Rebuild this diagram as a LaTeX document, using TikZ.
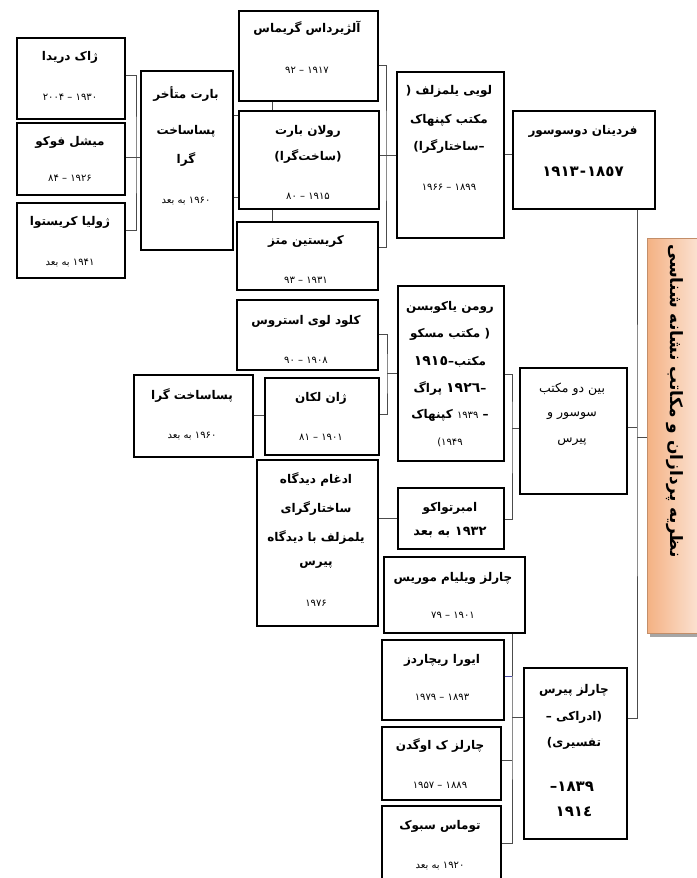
\documentclass[tikz,border=0pt]{standalone}
\usepackage{fontspec}
\TeXXeTstate=1
\newfontfamily\fafont[Script=Arabic]{DejaVu Sans}
\newcommand\fa[1]{{\fafont\beginR #1\endR}}
\newcommand\bigd[1]{{\fontsize{14}{16}\selectfont\bfseries #1}}
\usetikzlibrary{calc}
\definecolor{orA}{HTML}{F4B183}
\definecolor{orB}{HTML}{FCE6D8}
\begin{document}
\begin{tikzpicture}[x=1pt,y=-1pt,
  box/.style={draw=black, line width=1.5pt, fill=white, inner sep=0pt, anchor=north west},
  conn/.style={draw=black!70, line width=0.9pt},
  nm/.style={font=\fontsize{12}{14}\selectfont\bfseries, inner sep=0pt},
  nr/.style={font=\fontsize{12.5}{14}\selectfont, inner sep=0pt},
  dt/.style={font=\fontsize{10}{12}\selectfont, inner sep=0pt},
  bg/.style={font=\fontsize{12}{14}\selectfont\bfseries, inner sep=0pt}]
\useasboundingbox (0,0) rectangle (696,878);
% title box
\fill[black!35] (650,241) rectangle (700,637);
\node[draw=orA!80!black, line width=0.4pt, left color=orA, right color=orB, shading angle=90, minimum width=55pt, minimum height=395pt, anchor=north west, inner sep=0pt] (title) at (647,238) {};
\node[rotate=-90, inner sep=0pt, font=\fontsize{17}{19}\selectfont\bfseries] (titlet) at (675,401) {\fa{نظریه پردازان و مکاتب نشانه شناسی}};
% boxes
\node[box, minimum width=108pt, minimum height=81pt] (derrida) at (16,37) {};
\node[box, minimum width=108pt, minimum height=72pt] (foucault) at (16,122) {};
\node[box, minimum width=108pt, minimum height=75pt] (kristeva) at (16,202) {};
\node[box, minimum width=92pt, minimum height=179pt] (barthesL) at (140,70) {};
\node[box, minimum width=139pt, minimum height=90pt] (greimas) at (238,10) {};
\node[box, minimum width=140pt, minimum height=98pt] (barthes) at (238,110) {};
\node[box, minimum width=141pt, minimum height=68pt] (metz) at (236,221) {};
\node[box, minimum width=107pt, minimum height=166pt] (hjelm) at (396,71) {};
\node[box, minimum width=142pt, minimum height=98pt] (saussure) at (512,110) {};
\node[box, minimum width=141pt, minimum height=70pt] (levi) at (236,299) {};
\node[box, minimum width=114pt, minimum height=77pt] (lacan) at (264,377) {};
\node[box, minimum width=119pt, minimum height=82pt] (post) at (133,374) {};
\node[box, minimum width=106pt, minimum height=175pt] (jakob) at (397,285) {};
\node[box, minimum width=106pt, minimum height=61pt] (eco) at (397,487) {};
\node[box, minimum width=107pt, minimum height=126pt] (between) at (519,367) {};
\node[box, minimum width=121pt, minimum height=166pt] (merge) at (256,459) {};
\node[box, minimum width=141pt, minimum height=76pt] (morris) at (383,556) {};
\node[box, minimum width=122pt, minimum height=80pt] (richards) at (381,639) {};
\node[box, minimum width=119pt, minimum height=73pt] (ogden) at (381,726) {};
\node[box, minimum width=119pt, minimum height=80pt] (sebeok) at (381,805) {};
\node[box, minimum width=103pt, minimum height=171pt] (peirce) at (523,667) {};
% texts
\node[nm] (t1) at (70,57) {\fa{ژاک دریدا}};
\node[dt] (t1d) at (70,97) {\fa{۱۹۳۰ – ۲۰۰۴}};
\node[nm] (t2) at (70,142) {\fa{میشل فوکو}};
\node[dt] (t2d) at (70,178) {\fa{۱۹۲۶ – ۸۴}};
\node[nm] (t3) at (70,222) {\fa{ژولیا کریستوا}};
\node[dt] (t3d) at (70,263) {\fa{۱۹۴۱ به بعد}};
\node[nm] (t4a) at (186,94) {\fa{بارت متأخر}};
\node[nm] (t4b) at (186,131) {\fa{پساساخت}};
\node[nm] (t4c) at (186,160) {\fa{گرا}};
\node[dt] (t4d) at (186,201) {\fa{۱۹۶۰ به بعد}};
\node[nm] (t5) at (307,28) {\fa{آلژیرداس گریماس}};
\node[dt] (t5d) at (307,70) {\fa{۱۹۱۷ – ۹۲}};
\node[nm] (t6a) at (308,131) {\fa{رولان بارت}};
\node[nm] (t6b) at (308,157) {\fa{(ساخت‌گرا)}};
\node[dt] (t6d) at (308,196) {\fa{۱۹۱۵ – ۸۰}};
\node[nm] (t7) at (306,241) {\fa{کریستین متز}};
\node[dt] (t7d) at (306,280) {\fa{۱۹۳۱ – ۹۳}};
\node[nm] (t8a) at (449,91) {\fa{لویی یلمزلف (}};
\node[nm] (t8b) at (449,120) {\fa{مکتب کپنهاک}};
\node[nm] (t8c) at (449,147) {\fa{–ساختارگرا)}};
\node[dt] (t8d) at (449,187) {\fa{۱۸۹۹ – ۱۹۶۶}};
\node[nm] (t9) at (583,131) {\fa{فردینان دوسوسور}};
\node[bg, font=\fontsize{15}{17}\selectfont\bfseries] (t9d) at (583,172) {\fa{١٨٥٧\kern1pt-\kern1pt١٩١٣}};
\node[nm] (t11) at (306,321) {\fa{کلود لوی استروس}};
\node[dt] (t11d) at (306,360) {\fa{۱۹۰۸ – ۹۰}};
\node[nm] (t12) at (321,398) {\fa{ژان لکان}};
\node[dt] (t12d) at (321,437) {\fa{۱۹۰۱ – ۸۱}};
\node[nm] (t13) at (192,396) {\fa{پساساخت گرا}};
\node[dt] (t13d) at (192,436) {\fa{۱۹۶۰ به بعد}};
\node[nm] (t14a) at (450,307) {\fa{رومن یاکوبسن}};
\node[nm] (t14b) at (450,334) {\fa{( مکتب مسکو}};
\node[nm] (t14c) at (450,362) {\fa{مکتب\kern0pt–\kern0pt\bigd{١٩١٥}}};
\node[nm] (t14d) at (450,389) {\fa{–\kern0pt\bigd{١٩٢٦} پراگ}};
\node[nm] (t14e) at (450,415) {\fa{– {\fontsize{10}{12}\selectfont\mdseries ۱۹۳۹} کپنهاک}};
\node[dt] (t14f) at (450,442) {\fa{۱۹۴۹)}};
\node[nm] (t15) at (450,508) {\fa{امبرتواکو}};
\node[bg, font=\fontsize{13}{15}\selectfont\bfseries] (t15d) at (450,532) {\fa{١٩٣٢ به بعد}};
\node[nr] (t16a) at (572,389) {\fa{بین دو مکتب}};
\node[nr] (t16b) at (572,416) {\fa{سوسور و}};
\node[nr] (t16c) at (572,442) {\fa{پیرس}};
\node[nm] (t17a) at (316,480) {\fa{ادغام دیدگاه}};
\node[nm] (t17b) at (316,509) {\fa{ساختارگرای}};
\node[nm] (t17c) at (316,537) {\fa{یلمزلف با دیدگاه}};
\node[nm] (t17d) at (316,565) {\fa{پیرس}};
\node[dt] (t17e) at (316,603) {\fa{۱۹۷۶}};
\node[nm] (t18) at (453,578) {\fa{چارلز ویلیام موریس}};
\node[dt] (t18d) at (453,615) {\fa{۱۹۰۱ – ۷۹}};
\node[nm] (t19) at (442,660) {\fa{ایورا ریچاردز}};
\node[dt] (t19d) at (442,697) {\fa{۱۸۹۳ – ۱۹۷۹}};
\node[nm] (t20) at (440,745) {\fa{چارلز ک اوگدن}};
\node[dt] (t20d) at (440,785) {\fa{۱۸۸۹ – ۱۹۵۷}};
\node[nm] (t21) at (440,826) {\fa{توماس سبوک}};
\node[dt] (t21d) at (440,866) {\fa{۱۹۲۰ به بعد}};
\node[nm] (t22a) at (574,690) {\fa{چارلز پیرس}};
\node[nm] (t22b) at (574,717) {\fa{(ادراکی –}};
\node[nm] (t22c) at (574,743) {\fa{تفسیری)}};
\node[bg, font=\fontsize{15}{17}\selectfont\bfseries] (t22d) at (572,787) {\fa{١٨٣٩\kern0pt–}};
\node[bg, font=\fontsize{15}{17}\selectfont\bfseries] (t22e) at (574,812) {\fa{١٩١٤}};
% connectors
\coordinate (k1) at (136,157);
\draw[conn] (derrida.east |- 0,75) -| (k1) |- (kristeva.east |- 0,230);
\draw[conn] (foucault.east |- 0,157) -- (barthesL.west |- 0,157);
\draw[conn] (barthesL.east |- 0,115) -- (barthes.west |- 0,115);
\draw[conn] (barthesL.east |- 0,197) -- (barthes.west |- 0,197);
\draw[conn] (greimas.south -| 272,0) -- (barthes.north -| 272,0);
\draw[conn] (barthes.south -| 272,0) -- (metz.north -| 272,0);
\coordinate (k2) at (386,155);
\draw[conn] (greimas.east |- 0,65) -| (k2) |- (metz.east |- 0,247);
\draw[conn] (barthes.east |- 0,155) -- (hjelm.west |- 0,155);
\draw[conn] (hjelm.east |- 0,154) -- (saussure.west |- 0,154);
\coordinate (k3) at (637,437);
\draw[conn] (saussure.south -| 637,0) -- (k3) |- (peirce.east |- 0,718);
\draw[conn] (between.east |- 0,427) -- (k3 |- 0,427);
\draw[conn] (k3) -- (title.west |- 0,437);
\coordinate (k4) at (512,428);
\draw[conn] (jakob.east |- 0,374) -| (k4) |- (eco.east |- 0,519);
\draw[conn] (k4) -- (between.west |- 0,428);
\coordinate (k5) at (387,373);
\draw[conn] (levi.east |- 0,334) -| (k5) |- (lacan.east |- 0,414);
\draw[conn] (k5) -- (jakob.west |- 0,373);
\draw[conn] (post.east |- 0,415) -- (lacan.west |- 0,415);
\draw[conn] (merge.east |- 0,518) -- (eco.west |- 0,518);
\coordinate (k6) at (512,717);
\draw[conn] (morris.south -| 512,0) -- (k6) |- (sebeok.east |- 0,843);
\draw[conn, draw=blue!50!black!70] (richards.east |- 0,676) -- (k6 |- 0,676);
\draw[conn] (ogden.east |- 0,760) -- (k6 |- 0,760);
\draw[conn] (k6) -- (peirce.west |- 0,717);
\end{tikzpicture}
\end{document}
